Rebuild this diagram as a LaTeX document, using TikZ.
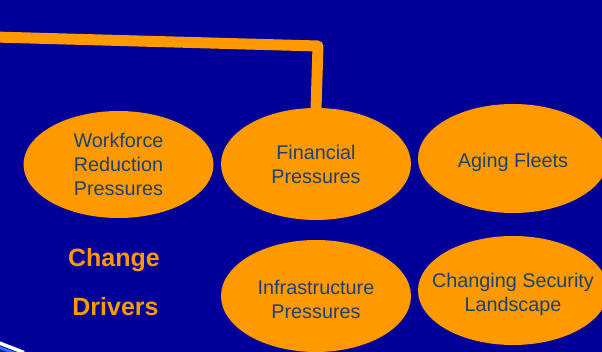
\documentclass[tikz,border=0pt]{standalone}
\usepackage{fontspec}
\setmainfont{Liberation Sans}
\usepackage{tikz}
\usetikzlibrary{shapes.geometric,backgrounds}
\definecolor{deepblue}{RGB}{0,0,153}
\definecolor{amber}{RGB}{255,153,0}
\definecolor{slateink}{RGB}{28,66,112}
\definecolor{edgeblue}{RGB}{40,110,255}
\newcommand{\lowered}[1]{\raisebox{-3.5pt}[\height][\depth]{#1}}
\tikzset{
  driver/.style={ellipse,fill=amber,draw=none,minimum width=190pt,minimum height=#1,
    inner sep=0pt,inner xsep=-24pt,align=center,text=slateink,font=\fontsize{19.8}{24}\selectfont},
  driver/.default=110pt,
  heading/.style={text=amber,font=\fontsize{25}{28}\selectfont\bfseries,anchor=base},
  feeder/.style={line width=11pt,amber,line join=round}
}

\begin{document}
\begin{tikzpicture}[x=1pt,y=1pt]
    \fill[deepblue] (0,0) rectangle (602,352);
    \useasboundingbox (0,0) rectangle (602,352);
    % drivers
    \node[driver=107pt] (work) at (118.5,187.5) {Workforce\\Reduction\\Pressures};
    \node[driver=112pt] (fin) at (316,188) {Financial\\Pressures};
    \node[driver=109pt] (aging) at (513,193.5) {\lowered{Aging Fleets}};
    \node[driver=112pt] (infra) at (316,56) {\lowered{Infrastructure}\\\lowered{Pressures}};
    \node[driver=109pt] (secur) at (513,61.5) {\lowered{Changing Security}\\\lowered{Landscape}};
    \node[heading] (chg) at (114,85) {Change};
    \node[heading] (drv) at (115.5,36) {Drivers};
    % feeder line
    \coordinate (feed) at (-6,315);
    \coordinate (bend) at (318,306);
    \draw[feeder] (feed) -- (bend) -- ([yshift=-2pt]fin.north);
    % corner swoosh
    \draw[edgeblue,line width=3pt] (-2,5) -- (22,-4);
    \draw[white,line width=3.5pt] (-2,9.5) -- (24,-0.5);
\end{tikzpicture}
\end{document}
